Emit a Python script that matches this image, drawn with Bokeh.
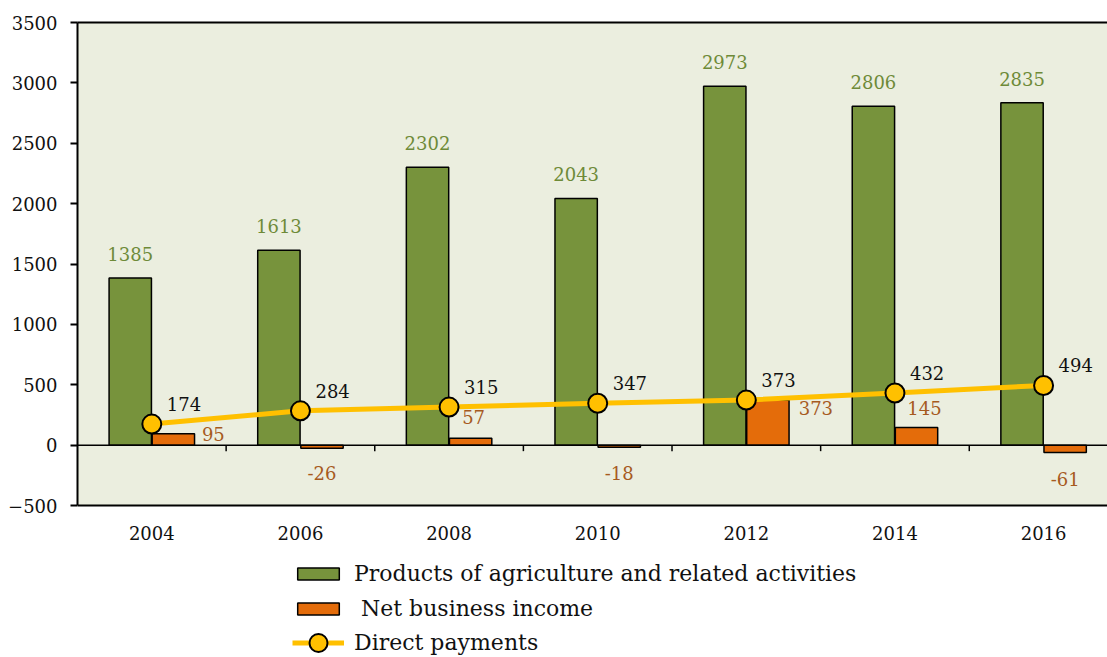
from bokeh.plotting import figure
from bokeh.models import (FixedTicker, LinearAxis, Legend, LegendItem, Span,
                          ColumnDataSource, Range1d, BoxAnnotation)
from bokeh.core.properties import value
from bokeh.embed import file_html
from bokeh.resources import INLINE

# ---------------- data ----------------
years = ["2004", "2006", "2008", "2010", "2012", "2014", "2016"]
products = [1385, 1613, 2302, 2043, 2973, 2806, 2835]
net_income = [95, -26, 57, -18, 373, 145, -61]
direct_payments = [174, 284, 315, 347, 373, 432, 494]
y_ticks = [-500, 0, 500, 1000, 1500, 2000, 2500, 3000, 3500]
y_min, y_max = -500, 3500

# label nudges (screen px, style only)
net_dx = [40, 0, 3, 0, 48, 8, 0]
net_dy = [0, 25, -21, 26, 8, -20, 27]

FONT = "DejaVu Serif"
GREEN = "#77933C"
ORANGE = "#E46C0A"
YELLOW = "#FFC000"
BG = "#EBEEDF"
GREEN_TXT = "#6E8A38"
ORANGE_TXT = "#A65A1E"

# frame: top at 22px, plot area bottom (-500) at 505px, frame bottom at page bottom
W, H = 1107, 657
TOP = 22
px_per_unit = (505 - TOP) / (y_max - y_min)
frame_h = H - TOP
y_lo = y_max - frame_h / px_per_unit

idx = list(range(len(years)))
src = ColumnDataSource(dict(
    xg=[i - 0.145 for i in idx],
    xo=[i + 0.145 for i in idx],
    x=idx,
    products=products,
    net=net_income,
    direct=direct_payments,
    products_txt=[str(v) for v in products],
    net_txt=[str(v) for v in net_income],
    direct_txt=[str(v) for v in direct_payments],
    net_dx=net_dx,
    net_dy=net_dy,
))
ysrc = ColumnDataSource(dict(x=idx, y=[y_min] * len(idx), t=years))

p = figure(width=W, height=H,
           x_range=Range1d(-0.5, 6.43), y_range=Range1d(y_lo, y_max),
           output_backend="svg", toolbar_location=None,
           min_border_left=77, min_border_right=0, min_border_top=TOP,
           min_border_bottom=0,
           background_fill_color="white", border_fill_color="white")
p.grid.visible = False
p.outline_line_color = None
p.xaxis.visible = False

# plot-area background
p.add_layout(BoxAnnotation(bottom=y_min, top=y_max, fill_color=BG, fill_alpha=1,
                           line_color=None, level="underlay"))

# y axis
p.yaxis.ticker = FixedTicker(ticks=y_ticks)
p.yaxis.bounds = (y_min, y_max)
p.yaxis.axis_line_width = 2
p.yaxis.axis_line_color = "black"
p.yaxis.major_tick_out = 7
p.yaxis.major_tick_in = 0
p.yaxis.major_tick_line_width = 2
p.yaxis.minor_tick_line_color = None
p.yaxis.major_label_text_font = FONT
p.yaxis.major_label_text_font_size = "18px"
p.yaxis.major_label_text_color = "#111111"
p.yaxis.major_label_standoff = 13

# top border via an empty axis
top = LinearAxis(ticker=FixedTicker(ticks=[1000]), axis_line_width=2,
                 major_tick_out=0, major_tick_in=0, minor_tick_line_color=None,
                 major_label_text_alpha=0, major_label_text_font_size="1px",
                 major_label_standoff=0)
p.add_layout(top, "above")

# bottom border, zero line and category separator ticks
p.add_layout(Span(location=y_min, dimension="width", line_color="black", line_width=2))
p.add_layout(Span(location=0, dimension="width", line_color="black", line_width=1.5))
p.segment(x0=[i + 0.5 for i in idx[:-1]], y0=[0] * (len(idx) - 1),
          x1=[i + 0.5 for i in idx[:-1]], y1=[-50] * (len(idx) - 1),
          line_color="black", line_width=1.5)

# year labels under the plot area
p.text(x="x", y="y", text="t", source=ysrc, text_font=value(FONT),
       text_font_size="18px", text_color="#111111", text_align="center",
       text_baseline="middle", y_offset=27)

gbar = p.vbar(x="xg", top="products", bottom=0, width=0.285, source=src,
              fill_color=GREEN, line_color="black", line_width=1.5)
obar = p.vbar(x="xo", top="net", bottom=0, width=0.285, source=src,
              fill_color=ORANGE, line_color="black", line_width=1.5)
line = p.line(x="x", y="direct", source=src, line_color=YELLOW, line_width=5)
pts = p.scatter(x="x", y="direct", source=src, size=19, fill_color=YELLOW,
                line_color="black", line_width=2)

p.text(x="xg", y="products", text="products_txt", source=src,
       text_font=value(FONT), text_font_size="18px", text_color=GREEN_TXT,
       text_align="center", text_baseline="middle", y_offset=-24)
p.text(x="x", y="direct", text="direct_txt", source=src,
       text_font=value(FONT), text_font_size="18px", text_color="#111111",
       text_align="left", text_baseline="middle", x_offset=15, y_offset=-20)
p.text(x="xo", y="net", text="net_txt", source=src,
       text_font=value(FONT), text_font_size="18px", text_color=ORANGE_TXT,
       text_align="center", text_baseline="middle", x_offset="net_dx", y_offset="net_dy")

common = dict(orientation="vertical", label_text_font=FONT,
              label_text_font_size="22px", label_text_color="#111111",
              glyph_width=52, label_standoff=10, padding=0, margin=0,
              border_line_color=None, background_fill_alpha=0)
legend1 = Legend(items=[
    LegendItem(label="Products of agriculture and related activities", renderers=[gbar]),
    LegendItem(label=" Net business income", renderers=[obar]),
], location=(215, 36), glyph_height=15, spacing=10, **common)
legend2 = Legend(items=[
    LegendItem(label="Direct payments", renderers=[line, pts]),
], location=(215, -8), glyph_height=45, spacing=0, **common)
p.add_layout(legend1)
p.add_layout(legend2)

open("out.html", "w").write(file_html(p, INLINE))
